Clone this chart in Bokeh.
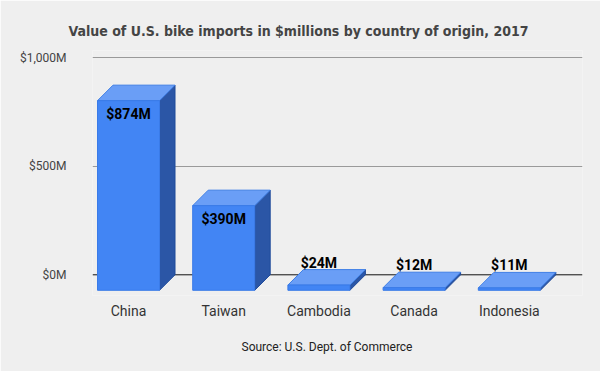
from bokeh.plotting import figure
from bokeh.models import Range1d, FixedTicker, Span, Title, ColumnDataSource
from bokeh.core.properties import value
from bokeh.embed import file_html
from bokeh.resources import INLINE

# ---- data ----
countries = ["China", "Taiwan", "Cambodia", "Canada", "Indonesia"]
imports_musd = [874, 390, 24, 12, 11]
value_labels = ["$874M", "$390M", "$24M", "$12M", "$11M"]
y_ticks = [0, 500, 1000]
y_tick_labels = ["$0M", "$500M", "$1,000M"]
title_text = "Value of U.S. bike imports in $millions by country of origin, 2017"
source_text = "Source: U.S. Dept. of Commerce"

# ---- style ----
BG = "#efefef"
FRONT, TOP, SIDE = "#4285f4", "#6a9ef6", "#2b56a6"
PX = 1000 / 217.0      # value units per screen pixel (vertical)
CAT_PX = 95.2          # screen pixels per category (horizontal)
BAR_W = 62 / CAT_PX    # front face width in category units
DX = 15.5 / CAT_PX     # 3-D depth, horizontal
DY = 15.5 * PX         # 3-D depth, vertical

p = figure(width=600, height=371, output_backend="svg", toolbar_location=None,
           title=None,
           x_range=Range1d(-36 / CAT_PX, 454 / CAT_PX),
           y_range=Range1d(-20.7 * PX, 224.3 * PX),
           min_border_left=92, min_border_right=18,
           min_border_top=50, min_border_bottom=76,
           background_fill_color=BG, border_fill_color=BG,
           outline_line_color=None)

# axes
p.yaxis.ticker = FixedTicker(ticks=y_ticks)
p.yaxis.major_label_overrides = {t: l for t, l in zip(y_ticks, y_tick_labels)}
p.xaxis.ticker = FixedTicker(ticks=list(range(len(countries))))
p.xaxis.major_label_overrides = {i: c for i, c in enumerate(countries)}
for ax in (p.xaxis, p.yaxis):
    ax.axis_line_color = None
    ax.major_tick_line_color = None
    ax.minor_tick_line_color = None
    ax.major_tick_out = 0
    ax.major_tick_in = 0
    ax.major_label_text_font = "Roboto"
p.yaxis.major_label_text_font_size = "12px"
p.yaxis.major_label_text_color = "#444444"
p.yaxis.major_label_standoff = 26
p.xaxis.major_label_text_font_size = "14px"
p.xaxis.major_label_text_color = "#333333"
p.xaxis.major_label_standoff = 7

p.xgrid.visible = False
p.ygrid.ticker = FixedTicker(ticks=[t for t in y_ticks if t != 0])
p.ygrid.grid_line_color = "#9a9a9a"
p.ygrid.grid_line_width = 1

p.add_layout(Span(location=0, dimension="width", line_color="#111111",
                  line_width=1, level="underlay"))

# ---- 3-D bars ----
front_xs, front_ys, top_xs, top_ys, side_xs, side_ys = [], [], [], [], [], []
for i, v in enumerate(imports_musd):
    l, r = i - BAR_W / 2, i + BAR_W / 2
    front_xs.append([l, r, r, l])
    front_ys.append([-DY, -DY, v - DY, v - DY])
    top_xs.append([l, r, r + DX, l + DX])
    top_ys.append([v - DY, v - DY, v, v])
    side_xs.append([r, r + DX, r + DX, r])
    side_ys.append([-DY, 0, v, v - DY])

p.patches(side_xs, side_ys, fill_color=SIDE, line_color="#1f4a9a", line_width=1)
p.patches(top_xs, top_ys, fill_color=TOP, line_color="#3f7fe6", line_width=1)
p.patches(front_xs, front_ys, fill_color=FRONT, line_color="#3a7be8", line_width=1)

# ---- value labels ----
lab_x, lab_y = [], []
for i, v in enumerate(imports_musd):
    lab_x.append(i)
    if v > 100:
        lab_y.append(v - DY - 13 * PX)
    else:
        lab_y.append(v + 7 * PX)
src = ColumnDataSource(dict(x=lab_x, y=lab_y, t=value_labels))
p.text(x="x", y="y", text="t", source=src, text_align="center",
       text_baseline="middle", text_font=value("Roboto"),
       text_font_style="bold", text_font_size="14px", text_color="#000000")

# ---- title & source ----
p.add_layout(Title(text=title_text, align="left", offset=-24,
                   vertical_align="middle", standoff=22,
                   text_font="'DejaVu Sans Condensed', Roboto",
                   text_font_style="bold",
                   text_font_size="14px", text_color="#444444"), "above")
p.add_layout(Title(text=source_text, align="left", offset=149,
                   vertical_align="middle", standoff=34,
                   text_font="Roboto", text_font_style="normal",
                   text_font_size="12px", text_color="#222222"), "below")

html = file_html(p, INLINE)
html = html.replace("<body>", '<body style="background:#efefef">', 1)
open("out.html", "w").write(html)
